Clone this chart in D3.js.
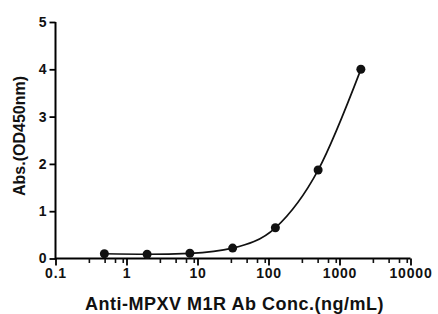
<!DOCTYPE html>
<html>
<head>
<meta charset="utf-8">
<script src="https://cdn.jsdelivr.net/npm/d3@7"></script>
<style>
  body { margin: 0; background: #fff; }
  text { font-family: "Liberation Sans", Arial, sans-serif; font-weight: bold; fill: #111; }
</style>
</head>
<body>
<div class="chart"></div>
<script>
// concentrations (ng/mL), 4-fold dilution series
let conc = [0.488, 1.95, 7.81, 31.25, 125, 500, 2000];
let absorb = [0.10, 0.09, 0.11, 0.22, 0.65, 1.87, 4.0];
let xTicks = [0.1, 1, 10, 100, 1000, 10000];
let xTickLabels = ["0.1", "1", "10", "100", "1000", "10000"];
let minorSteps = [3, 5, 7, 9];
let yTicks = [0, 1, 2, 3, 4, 5];

var margin = {top: 22, right: 25, bottom: 56, left: 55.5},
  width = 438 - margin.left - margin.right,
  height = 314 - margin.top - margin.bottom;

var svg = d3.select(".chart")
  .append("svg")
    .attr("width", 438)
    .attr("height", 314)
  .append("g")
    .attr("transform", "translate(" + margin.left + "," + margin.top + ")");

var x = d3.scaleLog()
    .domain([0.1, 10000])
    .range([0, 355]);

var y = d3.scaleLinear()
    .domain([0, 5])
    .range([236.5, 0]);

// minor ticks for the log axis
let minor = [];
xTicks.slice(0, -1).forEach(d => minorSteps.forEach(k => minor.push(d * k)));

var gx = svg.append("g")
    .attr("transform", "translate(0," + y(0) + ")")
    .call(d3.axisBottom(x).tickValues(xTicks).tickFormat((d, i) => xTickLabels[i]).tickSize(7).tickPadding(3));
gx.selectAll(".tick text").style("font-size", "14px").style("letter-spacing", "0.8px");
gx.select(".domain").attr("stroke-width", 2).attr("d", "M0,0H" + x(10000));
gx.selectAll(".tick line").attr("stroke-width", 1.8);

svg.append("g")
    .attr("transform", "translate(0," + y(0) + ")")
  .selectAll("line")
    .data(minor)
    .enter()
    .append("line")
      .attr("x1", d => x(d)).attr("x2", d => x(d))
      .attr("y1", 0).attr("y2", 4.5)
      .attr("stroke", "#111").attr("stroke-width", 1.6);

var gy = svg.append("g")
    .call(d3.axisLeft(y).tickValues(yTicks).tickFormat(d3.format("d")).tickSize(6).tickPadding(3));
gy.selectAll(".tick text").style("font-size", "14px");
gy.select(".domain").attr("stroke-width", 2).attr("d", "M0," + (y(0) + 1) + "V" + y(5));
gy.selectAll(".tick line").attr("stroke-width", 1.8);

// smooth curve through the points
var line = d3.line()
    .x(function(d, i) { return x(conc[i]); })
    .y(function(d) { return y(d); })
    .curve(d3.curveMonotoneX);

svg.append("path")
    .datum(absorb)
    .attr("fill", "none")
    .attr("stroke", "#111")
    .attr("stroke-width", 1.7)
    .attr("d", line);

svg.selectAll("circle")
    .data(absorb)
    .enter()
    .append("circle")
      .attr("cx", function(d, i) { return x(conc[i]); })
      .attr("cy", function(d) { return y(d); })
      .attr("r", 4.5)
      .style("fill", "#111");

svg.append("text")
    .attr("x", 179)
    .attr("y", 288)
    .attr("text-anchor", "middle")
    .style("font-size", "18px")
    .style("letter-spacing", "0.5px")
    .text("Anti-MPXV M1R Ab Conc.(ng/mL)");

svg.append("text")
    .attr("transform", "translate(-31," + 114 + ") rotate(-90)")
    .attr("text-anchor", "middle")
    .style("font-size", "16px")
    .text("Abs.(OD450nm)");
</script>
</body>
</html>
